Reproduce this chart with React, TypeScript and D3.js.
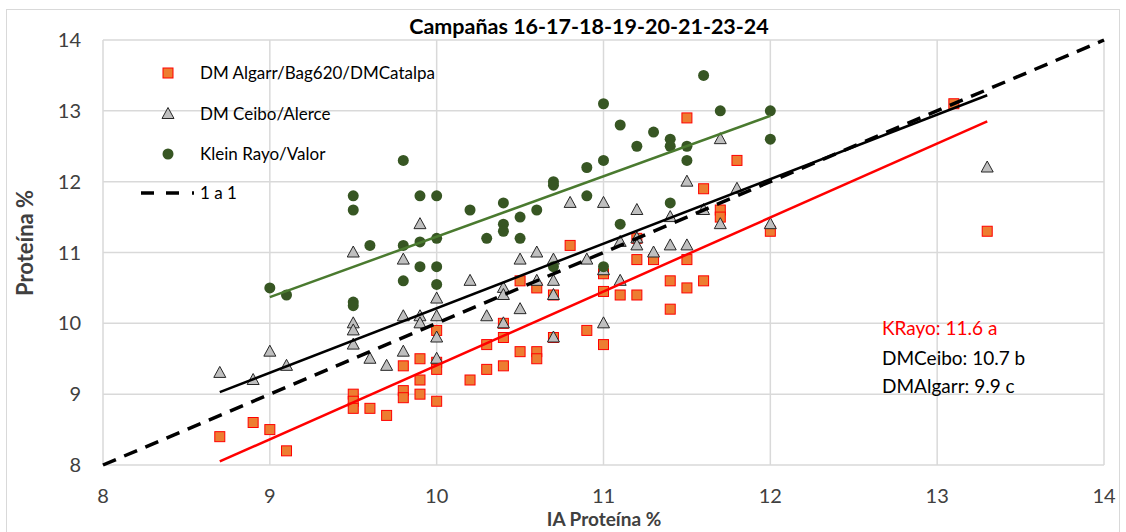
import React from "react";
import * as d3 from "d3";

// ---- Data ----
const algarrX = [8.7, 8.9, 9.0, 9.1, 9.5, 9.5, 9.5, 9.6, 9.7, 9.8, 9.8, 9.8, 9.9, 9.9, 9.9, 10.0, 10.0, 10.0, 10.0, 10.2, 10.3, 10.3, 10.4, 10.4, 10.4, 10.5, 10.5, 10.6, 10.6, 10.6, 10.7, 10.7, 10.8, 10.9, 11.0, 11.0, 11.0, 11.1, 11.2, 11.2, 11.2, 11.3, 11.4, 11.4, 11.5, 11.5, 11.5, 11.6, 11.6, 11.7, 11.7, 11.8, 12.0, 13.1, 13.3];
const algarrY = [8.4, 8.6, 8.5, 8.2, 9.0, 8.9, 8.8, 8.8, 8.7, 9.4, 9.05, 8.95, 9.5, 9.2, 9.0, 9.9, 9.45, 9.35, 8.9, 9.2, 9.7, 9.35, 10.0, 9.8, 9.4, 10.6, 9.6, 10.5, 9.6, 9.5, 10.4, 9.8, 11.1, 9.9, 10.7, 10.45, 9.7, 10.4, 11.2, 10.9, 10.4, 10.9, 10.6, 10.2, 12.9, 10.9, 10.5, 11.9, 10.6, 11.6, 11.5, 12.3, 11.3, 13.1, 11.3];

const ceiboX = [8.7, 8.9, 9.0, 9.1, 9.5, 9.5, 9.5, 9.5, 9.6, 9.7, 9.8, 9.8, 9.8, 9.9, 9.9, 9.9, 10.0, 10.0, 10.0, 10.0, 10.2, 10.3, 10.4, 10.4, 10.4, 10.5, 10.5, 10.6, 10.6, 10.7, 10.7, 10.7, 10.7, 10.8, 10.9, 11.0, 11.0, 11.0, 11.1, 11.1, 11.2, 11.2, 11.2, 11.3, 11.4, 11.4, 11.5, 11.5, 11.6, 11.7, 11.7, 11.8, 12.0, 13.3];
const ceiboY = [9.3, 9.2, 9.6, 9.4, 11.0, 10.0, 9.9, 9.7, 9.5, 9.4, 10.9, 10.1, 9.6, 11.4, 10.1, 10.0, 10.35, 10.1, 9.8, 9.5, 10.6, 10.1, 10.5, 10.4, 10.0, 10.9, 10.2, 11.0, 10.6, 10.9, 10.6, 10.4, 9.8, 11.7, 10.9, 11.7, 10.75, 10.0, 11.15, 10.6, 11.6, 11.2, 11.1, 11.0, 11.5, 11.1, 12.0, 11.1, 11.6, 12.6, 11.4, 11.9, 11.4, 12.2];

const kleinX = [9.0, 9.1, 9.5, 9.5, 9.5, 9.5, 9.6, 9.8, 9.8, 9.8, 9.9, 9.9, 9.9, 10.0, 10.0, 10.0, 10.0, 10.2, 10.3, 10.4, 10.4, 10.4, 10.5, 10.5, 10.6, 10.7, 10.7, 10.7, 10.9, 10.9, 11.0, 11.0, 11.0, 11.1, 11.1, 11.2, 11.3, 11.4, 11.4, 11.4, 11.5, 11.5, 11.6, 11.7, 12.0, 12.0];
const kleinY = [10.5, 10.4, 11.8, 11.6, 10.3, 10.25, 11.1, 12.3, 11.1, 10.6, 11.8, 11.15, 10.8, 11.8, 11.2, 10.8, 10.55, 11.6, 11.2, 11.7, 11.4, 11.3, 11.5, 11.2, 11.6, 12.0, 11.95, 10.8, 12.2, 11.8, 13.1, 12.3, 10.8, 12.8, 11.4, 12.5, 12.7, 12.6, 12.5, 11.7, 12.5, 12.3, 13.5, 13.0, 13.0, 12.6];

// trend lines (endpoints)
const trendAlgarrX = [8.7, 13.3];
const trendAlgarrY = [8.05, 12.85];
const trendCeiboX = [8.7, 13.3];
const trendCeiboY = [9.03, 13.22];
const trendKleinX = [9.0, 12.0];
const trendKleinY = [10.37, 12.93];
const oneToOne = [8, 14];

const xTicks = [8, 9, 10, 11, 12, 13, 14];
const yTicks = [8, 9, 10, 11, 12, 13, 14];

const seriesNames = ["DM Algarr/Bag620/DMCatalpa", "DM Ceibo/Alerce", "Klein Rayo/Valor", "1 a 1"];
const meansLabels = ["KRayo: 11.6 a", "DMCeibo: 10.7 b", "DMAlgarr: 9.9 c"];
const title = "Campañas 16-17-18-19-20-21-23-24";
const xTitle = "IA Proteína %";
const yTitle = "Proteína %";

const FONT = "Lato, 'Open Sans', sans-serif";

export default function App() {
  const x = d3.scaleLinear().domain([8, 14]).range([103, 1104]);
  const y = d3.scaleLinear().domain([8, 14]).range([465, 40]);
  const line = d3.line<[number, number]>().x((d) => x(d[0])).y((d) => y(d[1]));
  const zip = (a: number[], b: number[]) => a.map((v, i) => [v, b[i]] as [number, number]);

  const tri = (cx: number, cy: number) =>
    `M${cx},${cy - 6.5}L${cx + 6},${cy + 4.5}L${cx - 6},${cy + 4.5}Z`;

  return (
    <svg
      width={1126}
      height={532}
      style={{ position: "fixed", left: 0, top: 0, background: "#fff", display: "block" }}
      fontFamily={FONT}
    >
      <rect x={0} y={0} width={1126} height={532} fill="#fff" />
      <rect x={6.5} y={9.5} width={1113} height={530} fill="none" stroke="#d9d9d9" strokeWidth={1} />
      {/* grid */}
      {xTicks.map((t) => (
        <line key={"gx" + t} x1={x(t)} x2={x(t)} y1={y(8)} y2={y(14)} stroke="#d9d9d9" strokeWidth={1.5} />
      ))}
      {yTicks.map((t) => (
        <line key={"gy" + t} x1={x(8)} x2={x(14)} y1={y(t)} y2={y(t)} stroke="#d9d9d9" strokeWidth={1.5} />
      ))}
      {/* tick labels */}
      {xTicks.map((t) => (
        <text key={"tx" + t} x={x(t)} y={503} textAnchor="middle" fontSize={20} fill="#404040">
          {t}
        </text>
      ))}
      {yTicks.map((t) => (
        <text key={"ty" + t} x={81} y={y(t) + 7} textAnchor="end" fontSize={20} fill="#404040">
          {t}
        </text>
      ))}
      {/* titles */}
      <text x={589} y={34} textAnchor="middle" fontSize={21.5} fontWeight="bold" fill="#000">
        {title}
      </text>
      <text x={604} y={526} textAnchor="middle" fontSize={19} fontWeight="bold" fill="#404040">
        {xTitle}
      </text>
      <text
        transform={`translate(33,243) rotate(-90)`}
        textAnchor="middle"
        fontSize={22}
        fontWeight="bold"
        fill="#404040"
      >
        {yTitle}
      </text>

      {/* points */}
      {zip(algarrX, algarrY).map((d, i) => (
        <rect key={"a" + i} x={x(d[0]) - 5} y={y(d[1]) - 5} width={10} height={10} fill="#ED7D31" stroke="#FF0000" strokeWidth={1} />
      ))}
      {zip(ceiboX, ceiboY).map((d, i) => (
        <path key={"c" + i} d={tri(x(d[0]), y(d[1]))} fill="#BFBFBF" stroke="#262626" strokeWidth={1} />
      ))}
      {zip(kleinX, kleinY).map((d, i) => (
        <circle key={"k" + i} cx={x(d[0])} cy={y(d[1])} r={5.5} fill="#375623" />
      ))}

      {/* trend lines */}
      <path d={line(zip(trendAlgarrX, trendAlgarrY)) || ""} stroke="#FF0000" strokeWidth={2.5} fill="none" />
      <path d={line(zip(trendCeiboX, trendCeiboY)) || ""} stroke="#000" strokeWidth={2.5} fill="none" />
      <path d={line(zip(trendKleinX, trendKleinY)) || ""} stroke="#4A7A2F" strokeWidth={2.5} fill="none" />
      <path d={line(zip(oneToOne, oneToOne)) || ""} stroke="#000" strokeWidth={3.5} strokeDasharray="14 9" fill="none" />

      {/* legend */}
      <rect x={163} y={68} width={10} height={10} fill="#ED7D31" stroke="#FF0000" strokeWidth={1} />
      <path d={tri(168, 114)} fill="#BFBFBF" stroke="#262626" strokeWidth={1} />
      <circle cx={168} cy={154} r={5.5} fill="#375623" />
      <line x1={141} x2={196} y1={193} y2={193} stroke="#000" strokeWidth={3.5} strokeDasharray="13 12 13 13 2 100" />
      {seriesNames.map((s, i) => (
        <text key={"l" + i} x={200} y={[79, 120, 160, 199][i]} fontSize={17} fill="#000">
          {s}
        </text>
      ))}

      {/* means */}
      {meansLabels.map((s, i) => (
        <text key={"m" + i} x={882} y={[335, 365, 393][i]} fontSize={19} fill={i === 0 ? "#FF0000" : "#000"}>
          {s}
        </text>
      ))}
    </svg>
  );
}
